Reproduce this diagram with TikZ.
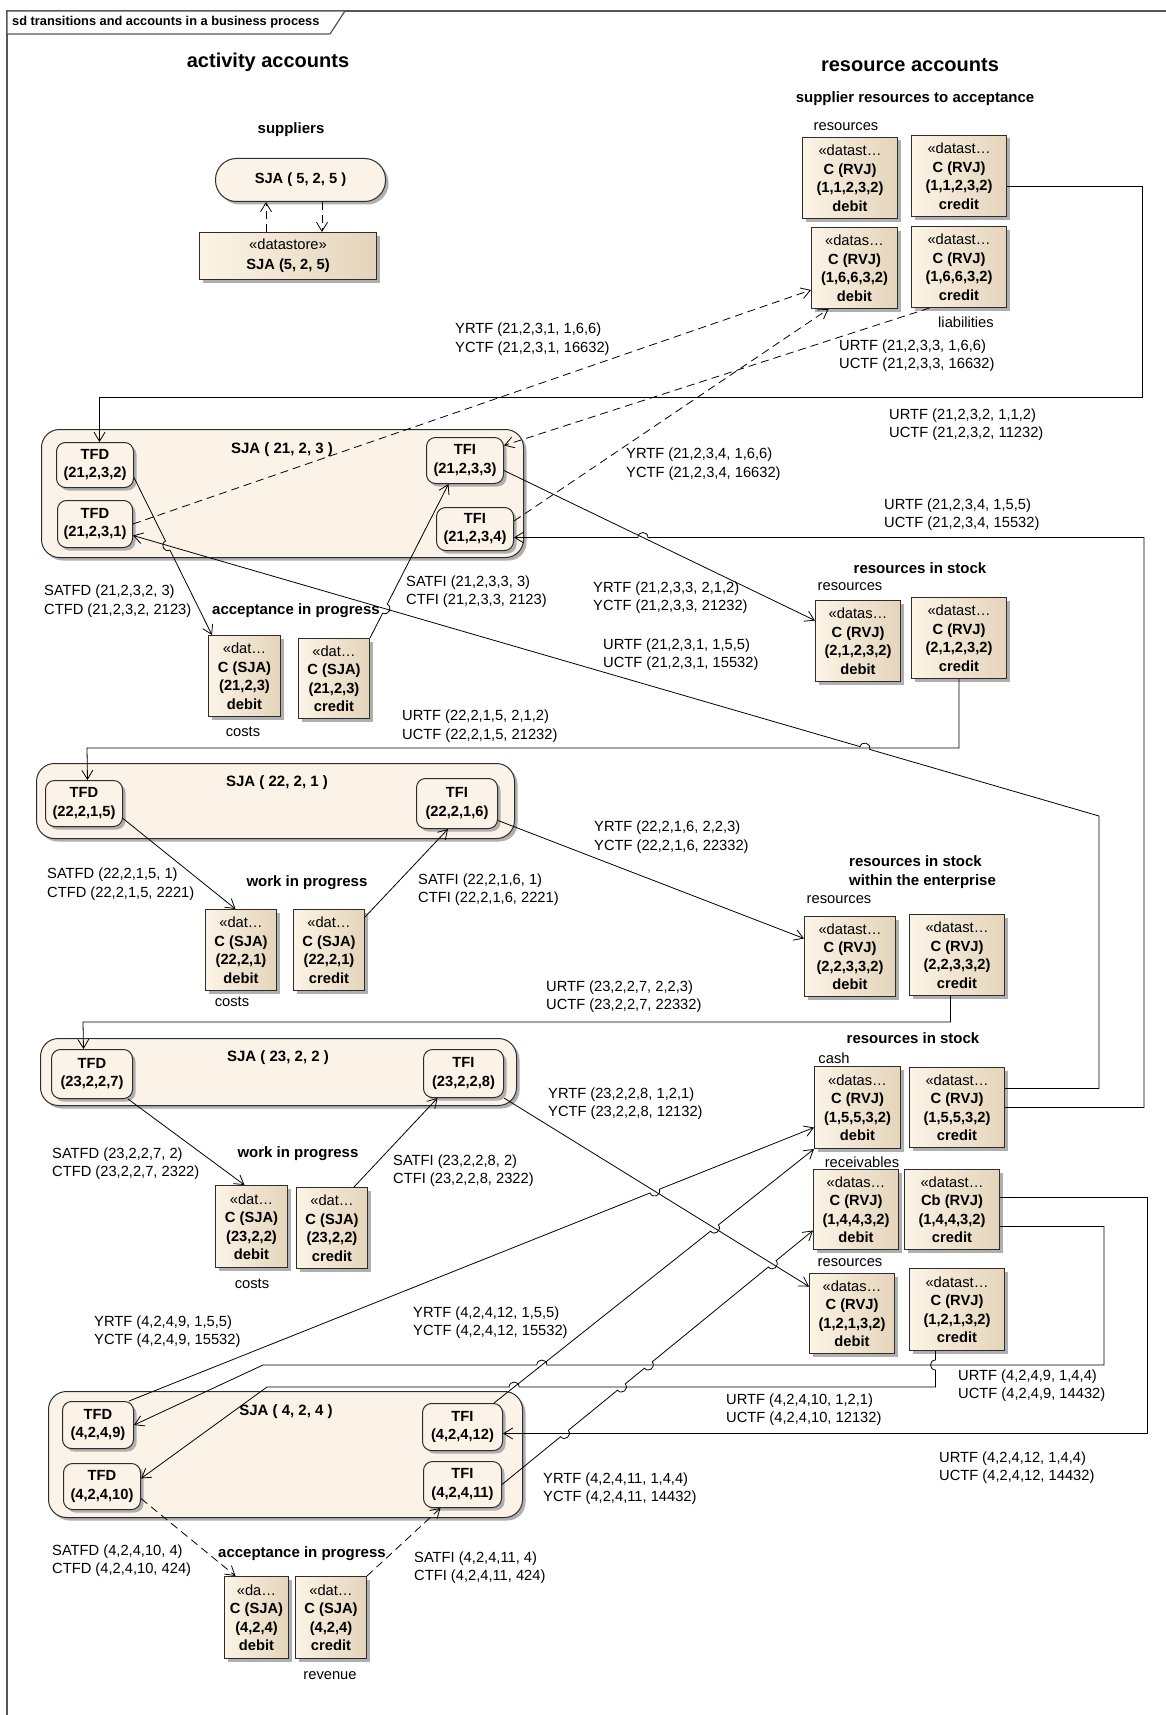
\documentclass[tikz,border=0pt]{standalone}
\usepackage{fontspec}
\setmainfont{Liberation Sans}
\usetikzlibrary{arrows.meta,calc,shadows,intersections}

\definecolor{frameline}{RGB}{85,85,85}
\definecolor{boxline}{RGB}{45,45,45}
\definecolor{actfill}{RGB}{251,243,231}
\definecolor{dsleft}{RGB}{252,244,230}
\definecolor{dsright}{RGB}{228,212,186}
\definecolor{shadowgray}{RGB}{175,175,175}

% line jump: #1 name, #2 point before, #3 crossing, #4 point after
\newcommand\mkjump[4]{%
  \coordinate (#1a) at ($(#3)!5pt!(#2)$);
  \coordinate (#1b) at ($(#3)!5pt!(#4)$);
  \coordinate (#1c) at ($(#1a)!6.6pt!-90:(#3)$);
  \coordinate (#1d) at ($(#1b)!6.6pt!90:(#3)$);
}
\newcommand\hop[1]{-- (#1a) .. controls (#1c) and (#1d) .. (#1b)}

\begin{document}
\begin{tikzpicture}[x=1pt,y=-1pt,
  lbl/.style={font=\fontsize{14.7}{18.5}\selectfont, inner sep=0pt},
  lbltwo/.style={lbl, align=left, anchor=west},
  grouphead/.style={font=\fontsize{15}{19}\selectfont\bfseries, inner sep=0pt},
  bighead/.style={font=\fontsize{20}{24}\selectfont\bfseries, inner sep=0pt},
  shadowed/.style={drop shadow={shadow xshift=3pt, shadow yshift=-3pt, fill=shadowgray, opacity=1}},
  region/.style={draw=boxline, line width=1pt, fill=actfill, rounded corners=18pt, shadowed, anchor=north west, inner sep=0pt},
  transbox/.style={draw=boxline, line width=1pt, fill=actfill, rounded corners=9pt, shadowed, anchor=north west, inner sep=0pt, align=center, font=\fontsize{14.7}{18.5}\selectfont\bfseries},
  store/.style={draw=boxline, line width=1pt, left color=dsleft, right color=dsright, shadowed, anchor=north west, inner sep=0pt, align=center, font=\fontsize{14.7}{18.5}\selectfont\bfseries},
  flow/.style={line width=0.8pt, -{Straight Barb[length=9pt,width=11pt,line width=0.8pt]}},
  dflow/.style={flow, dash pattern=on 8pt off 5pt},
]
\useasboundingbox (0,0) rectangle (1166,1715);
\fill[white] (0,0) rectangle (1166,1715);

% ---------- frame ----------
\draw[frameline,line width=1.4pt] (7,1730) -- (7,11) -- (1180,11);
\draw[frameline,line width=1.2pt,fill=white] (7,11) -- (345,11) -- (330,34) -- (7,34) -- cycle;
\node[anchor=west, inner sep=0pt, font=\fontsize{12.8}{15}\selectfont\bfseries] (title) at (12,22.5) {sd transitions and accounts in a business process};

% ---------- headings ----------
\node[bighead] (hact) at (268,62) {activity accounts};
\node[bighead] (hres) at (910,65) {resource accounts};
\node[grouphead] (gsupres) at (915,99) {supplier resources to acceptance};
\node[grouphead] (gsup) at (291,130) {suppliers};

% ---------- suppliers ----------
\node[draw=boxline, line width=1pt, fill=actfill, rounded corners=21pt, shadowed, anchor=north west, inner sep=0pt,
      minimum width=170pt, minimum height=43pt, font=\fontsize{14.7}{18.5}\selectfont\bfseries] (sja5) at (215,158) {SJA ( 5, 2, 5 )};
\node[store, minimum width=177pt, minimum height=47pt, font=\fontsize{14.7}{20}\selectfont\bfseries] (ds5) at (199,232) {\textmd{«datastore»}\\SJA (5, 2, 5)};

% ---------- activity regions ----------
\node[region, minimum width=482pt, minimum height=128pt] (sja21) at (41,429) {};
\node[region, minimum width=478pt, minimum height=75pt] (sja22) at (36,763) {};
\node[region, minimum width=476pt, minimum height=67pt] (sja23) at (40,1038) {};
\node[region, minimum width=474pt, minimum height=126pt] (sja4) at (48,1391) {};
\node[grouphead] (tsja21) at (282,450) {SJA ( 21, 2, 3 )};
\node[grouphead] (tsja22) at (277,783) {SJA ( 22, 2, 1 )};
\node[grouphead] (tsja23) at (278,1058) {SJA ( 23, 2, 2 )};
\node[grouphead] (tsja4) at (286,1412) {SJA ( 4, 2, 4 )};

% ---------- transitions ----------
\node[transbox, minimum width=77pt, minimum height=45pt] (tfdA) at (56,442) {TFD\\(21,2,3,2)};
\node[transbox, minimum width=75pt, minimum height=47pt] (tfdB) at (57,500) {TFD\\(21,2,3,1)};
\node[transbox, minimum width=77pt, minimum height=46pt] (tfiA) at (426,437) {TFI\\(21,2,3,3)};
\node[transbox, minimum width=77pt, minimum height=43pt] (tfiB) at (436,507) {TFI\\(21,2,3,4)};
\node[transbox, minimum width=77pt, minimum height=46pt] (tfdC) at (45,780) {TFD\\(22,2,1,5)};
\node[transbox, minimum width=81pt, minimum height=50pt] (tfiC) at (416,778) {TFI\\(22,2,1,6)};
\node[transbox, minimum width=81pt, minimum height=49pt] (tfdD) at (51,1049) {TFD\\(23,2,2,7)};
\node[transbox, minimum width=80pt, minimum height=48pt] (tfiD) at (423,1049) {TFI\\(23,2,2,8)};
\node[transbox, minimum width=71pt, minimum height=47pt] (tfdE) at (62,1401) {TFD\\(4,2,4,9)};
\node[transbox, minimum width=77pt, minimum height=46pt] (tfdF) at (63,1463) {TFD\\(4,2,4,10)};
\node[transbox, minimum width=80pt, minimum height=47pt] (tfiE) at (422,1403) {TFI\\(4,2,4,12)};
\node[transbox, minimum width=78pt, minimum height=46pt] (tfiF) at (423,1461) {TFI\\(4,2,4,11)};

% ---------- activity account stores ----------
\node[grouphead] (gacc1) at (296,611) {acceptance in progress};
\node[store, minimum width=72pt, minimum height=81pt] (sAd) at (208,635) {\textmd{«dat…}\\C (SJA)\\(21,2,3)\\debit};
\node[store, minimum width=71pt, minimum height=80pt] (sAc) at (298,638) {\textmd{«dat…}\\C (SJA)\\(21,2,3)\\credit};
\node[lbl] (lcost1) at (243,732) {costs};

\node[grouphead] (gwip1) at (307,883) {work in progress};
\node[store, minimum width=71pt, minimum height=81pt] (sBd) at (205,909) {\textmd{«dat…}\\C (SJA)\\(22,2,1)\\debit};
\node[store, minimum width=71pt, minimum height=81pt] (sBc) at (293,909) {\textmd{«dat…}\\C (SJA)\\(22,2,1)\\credit};
\node[lbl] (lcost2) at (232,1002) {costs};

\node[grouphead] (gwip2) at (298,1154) {work in progress};
\node[store, minimum width=72pt, minimum height=82pt] (sCd) at (215,1185) {\textmd{«dat…}\\C (SJA)\\(23,2,2)\\debit};
\node[store, minimum width=71pt, minimum height=81pt] (sCc) at (296,1187) {\textmd{«dat…}\\C (SJA)\\(23,2,2)\\credit};
\node[lbl] (lcost3) at (252,1284) {costs};

\node[grouphead] (gacc2) at (302,1554) {acceptance in progress};
\node[store, minimum width=64pt, minimum height=82pt] (sDd) at (224,1576) {\textmd{«da…}\\C (SJA)\\(4,2,4)\\debit};
\node[store, minimum width=71pt, minimum height=82pt] (sDc) at (295,1576) {\textmd{«dat…}\\C (SJA)\\(4,2,4)\\credit};
\node[lbl] (lrev) at (330,1676) {revenue};

% ---------- resource account stores ----------
\node[lbl] (lres1) at (846,127) {resources};
\node[store, minimum width=95pt, minimum height=81pt] (r1d) at (802,137) {\textmd{«datast…}\\C (RVJ)\\(1,1,2,3,2)\\debit};
\node[store, minimum width=95pt, minimum height=81pt] (r1c) at (911,135) {\textmd{«datast…}\\C (RVJ)\\(1,1,2,3,2)\\credit};
\node[store, minimum width=86pt, minimum height=81pt] (r2d) at (811,227) {\textmd{«datas…}\\C (RVJ)\\(1,6,6,3,2)\\debit};
\node[store, minimum width=95pt, minimum height=81pt] (r2c) at (911,226) {\textmd{«datast…}\\C (RVJ)\\(1,6,6,3,2)\\credit};
\node[lbl] (lliab) at (966,322) {liabilities};

\node[grouphead] (gstock1) at (920,568) {resources in stock};
\node[lbl] (lres2) at (850,587) {resources};
\node[store, minimum width=85pt, minimum height=81pt] (r3d) at (815,600) {\textmd{«datas…}\\C (RVJ)\\(2,1,2,3,2)\\debit};
\node[store, minimum width=95pt, minimum height=81pt] (r3c) at (911,597) {\textmd{«datast…}\\C (RVJ)\\(2,1,2,3,2)\\credit};

\node[grouphead, align=left, anchor=west] (gstock2) at (849,872.5) {resources in stock\\within the enterprise};
\node[lbl] (lres3) at (839,900) {resources};
\node[store, minimum width=91pt, minimum height=80pt] (r4d) at (804,916) {\textmd{«datast…}\\C (RVJ)\\(2,2,3,3,2)\\debit};
\node[store, minimum width=95pt, minimum height=81pt] (r4c) at (909,914) {\textmd{«datast…}\\C (RVJ)\\(2,2,3,3,2)\\credit};

\node[grouphead] (gstock3) at (913,1038) {resources in stock};
\node[lbl] (lcash) at (834,1058) {cash};
\node[store, minimum width=86pt, minimum height=82pt] (r5d) at (814,1066) {\textmd{«datas…}\\C (RVJ)\\(1,5,5,3,2)\\debit};
\node[store, minimum width=95pt, minimum height=80pt] (r5c) at (909,1067) {\textmd{«datast…}\\C (RVJ)\\(1,5,5,3,2)\\credit};
\node[lbl] (lrecv) at (862,1162) {receivables};
\node[store, minimum width=85pt, minimum height=80pt] (r6d) at (813,1169) {\textmd{«datas…}\\C (RVJ)\\(1,4,4,3,2)\\debit};
\node[store, minimum width=95pt, minimum height=80pt] (r6c) at (904,1169) {\textmd{«datast…}\\Cb (RVJ)\\(1,4,4,3,2)\\credit};
\node[lbl] (lres4) at (850,1263) {resources};
\node[store, minimum width=85pt, minimum height=80pt] (r7d) at (809,1273) {\textmd{«datas…}\\C (RVJ)\\(1,2,1,3,2)\\debit};
\node[store, minimum width=95pt, minimum height=82pt] (r7c) at (909,1268) {\textmd{«datast…}\\C (RVJ)\\(1,2,1,3,2)\\credit};

% ---------- connector labels ----------
\node[lbltwo] (lyrtf1) at (455,339) {YRTF (21,2,3,1, 1,6,6)\\YCTF (21,2,3,1, 16632)};
\node[lbltwo] (lurtf3) at (839,355.5) {URTF (21,2,3,3, 1,6,6)\\UCTF (21,2,3,3, 16632)};
\node[lbltwo] (lurtf2) at (889,424.5) {URTF (21,2,3,2, 1,1,2)\\UCTF (21,2,3,2, 11232)};
\node[lbltwo] (lyrtf4) at (626,464) {YRTF (21,2,3,4, 1,6,6)\\YCTF (21,2,3,4, 16632)};
\node[lbltwo] (lurtf4) at (884,514.5) {URTF (21,2,3,4, 1,5,5)\\UCTF (21,2,3,4, 15532)};
\node[lbltwo] (lsatfd1) at (44,601) {SATFD (21,2,3,2, 3)\\CTFD (21,2,3,2, 2123)};
\node[lbltwo] (lsatfi1) at (406,591.5) {SATFI (21,2,3,3, 3)\\CTFI (21,2,3,3, 2123)};
\node[lbltwo] (lyrtf3) at (593,597.5) {YRTF (21,2,3,3, 2,1,2)\\YCTF (21,2,3,3, 21232)};
\node[lbltwo] (lurtf1) at (603,654.5) {URTF (21,2,3,1, 1,5,5)\\UCTF (21,2,3,1, 15532)};
\node[lbltwo] (lurtf5) at (402,726) {URTF (22,2,1,5, 2,1,2)\\UCTF (22,2,1,5, 21232)};
\node[lbltwo] (lyrtf6) at (594,837) {YRTF (22,2,1,6, 2,2,3)\\YCTF (22,2,1,6, 22332)};
\node[lbltwo] (lsatfd2) at (47,884) {SATFD (22,2,1,5, 1)\\CTFD (22,2,1,5, 2221)};
\node[lbltwo] (lsatfi2) at (418,889.5) {SATFI (22,2,1,6, 1)\\CTFI (22,2,1,6, 2221)};
\node[lbltwo] (lurtf7) at (546,996.5) {URTF (23,2,2,7, 2,2,3)\\UCTF (23,2,2,7, 22332)};
\node[lbltwo] (lyrtf8) at (548,1103.5) {YRTF (23,2,2,8, 1,2,1)\\YCTF (23,2,2,8, 12132)};
\node[lbltwo] (lsatfd3) at (52,1163.5) {SATFD (23,2,2,7, 2)\\CTFD (23,2,2,7, 2322)};
\node[lbltwo] (lsatfi3) at (393,1170.5) {SATFI (23,2,2,8, 2)\\CTFI (23,2,2,8, 2322)};
\node[lbltwo] (lyrtf9) at (94,1331.5) {YRTF (4,2,4,9, 1,5,5)\\YCTF (4,2,4,9, 15532)};
\node[lbltwo] (lyrtf12) at (413,1322.5) {YRTF (4,2,4,12, 1,5,5)\\YCTF (4,2,4,12, 15532)};
\node[lbltwo] (lurtf9) at (958,1385.5) {URTF (4,2,4,9, 1,4,4)\\UCTF (4,2,4,9, 14432)};
\node[lbltwo] (lurtf10) at (726,1409.5) {URTF (4,2,4,10, 1,2,1)\\UCTF (4,2,4,10, 12132)};
\node[lbltwo] (lurtf12) at (939,1467.5) {URTF (4,2,4,12, 1,4,4)\\UCTF (4,2,4,12, 14432)};
\node[lbltwo] (lyrtf11) at (543,1488.5) {YRTF (4,2,4,11, 1,4,4)\\YCTF (4,2,4,11, 14432)};
\node[lbltwo] (lsatfd4) at (52,1560.5) {SATFD (4,2,4,10, 4)\\CTFD (4,2,4,10, 424)};
\node[lbltwo] (lsatfi4) at (414,1567.5) {SATFI (4,2,4,11, 4)\\CTFI (4,2,4,11, 424)};

% ---------- connectors: suppliers ----------
\coordinate (q1) at ([xshift=67pt]ds5.north west);
\coordinate (q2) at ([xshift=107pt]sja5.south west);
\draw[dflow] (q1) -- (q1 |- sja5.south);
\draw[dflow] (q2) -- (q2 |- ds5.north);

% ---------- connectors: SJA(21,2,3) ----------
\draw[flow] ([yshift=-10pt]r1c.east) -| (1142,397) -| ([xshift=4.5pt]tfdA.north);
\draw[dflow] (tfdB.east) -- ([yshift=-22pt]r2d.west);
\draw[dflow] ([yshift=8pt]tfiB.east) -- ([xshift=-26pt]r2d.south);
\draw[dflow] ([xshift=-29.5pt]r2c.south) -- ([yshift=15pt]tfiA.east);

\coordinate (u1b) at (1099,816);
\coordinate (u1e) at ([yshift=-11.5pt]tfdB.east);
\path[name path=diag1] (u1b) -- (u1e);

\coordinate (c7s) at ([yshift=-12.5pt]tfdA.east);
\coordinate (c7e) at ([xshift=4pt]sAd.north west);
\path[name path=p7] (c7s) -- (c7e);
\path[name intersections={of=p7 and diag1, by=x7}];
\mkjump{j7}{c7s}{x7}{c7e}
\draw[flow] (c7s) \hop{j7} -- (c7e);

\coordinate (c8s) at (sAc.north east);
\coordinate (c8e) at ([xshift=-16.5pt]tfiA.south);
\path[name path=p8] (c8s) -- (c8e);
\path[name intersections={of=p8 and diag1, by=x8}];
\mkjump{j8}{c8s}{x8}{c8e}
\draw[flow] (c8s) \hop{j8} -- (c8e);

\coordinate (c9s) at ([yshift=-10pt]tfiA.east);
\coordinate (c9e) at ([yshift=20.5pt]r3d.west);
\coordinate (c10e) at ([yshift=-8.5pt]tfiB.east);
\coordinate (c10k) at (c10e -| 1144,0);
\path[name path=p9] (c9s) -- (c9e);
\path[name path=h10] (c10k) -- (c10e);
\path[name intersections={of=p9 and h10, by=x9}];
\mkjump{j9}{c10k}{x9}{c10e}
\draw[flow] (c9s) -- (c9e);
\draw[flow] (r5c.east) -| (c10k) \hop{j9} -- (c10e);

\coordinate (c12k) at (87,748);
\path[name path=h12] (r3c.south |- c12k) -- (c12k);
\path[name intersections={of=diag1 and h12, by=x11}];
\mkjump{j11}{u1b}{x11}{u1e}
\draw[flow] ([yshift=19pt]r5c.east) -| (u1b) \hop{j11} -- (u1e);

% ---------- connectors: SJA(22,2,1) ----------
\draw[flow] (r3c.south) |- (c12k) -- ([xshift=3.5pt]tfdC.north);
\draw[flow] ([yshift=-15pt]tfdC.east) -- ([xshift=-5.5pt]sBd.north);
\draw[flow] ([yshift=-8pt]sBc.north east) -- ([xshift=-9pt]tfiC.south);
\draw[flow] ([yshift=-17pt]tfiC.east) -- ([yshift=18pt]r4d.west);

% ---------- connectors: SJA(23,2,2) ----------
\draw[flow] ([xshift=-6.5pt]r4c.south) |- (83,1022) -- ([xshift=-8.5pt]tfdD.north);
\draw[flow] ([xshift=-5pt]tfdD.south east) -- ([xshift=-7pt]sCd.north);
\draw[flow] ([xshift=-14pt]sCc.north east) -- ([xshift=-26pt]tfiD.south);

% ---------- connectors: SJA(4,2,4) ----------
\coordinate (c19s) at (tfiD.south east);
\coordinate (c19e) at ([yshift=27pt]r7d.west);
\coordinate (c20s) at ([xshift=-5pt]tfdE.north east);
\coordinate (c20e) at ([yshift=-20pt]r5d.west);
\coordinate (c21s) at ([xshift=-9pt]tfiE.north east);
\coordinate (c21e) at (r5d.south west);
\coordinate (c22s) at (tfiF.east);
\coordinate (c22e) at ([yshift=-21pt]r6d.west);
\coordinate (c23s) at ([yshift=12pt]r6c.east);
\coordinate (c23e) at ([yshift=-6.5pt]tfiE.east);
\coordinate (c23k) at (c23e -| 1147,0);
\coordinate (c24s) at ([yshift=-17pt]r6c.east);
\coordinate (c24k1) at (1104,1365);
\coordinate (c24k2) at (263,1365);
\coordinate (c24e) at (tfdE.east);
\coordinate (c25s) at ([xshift=-21.5pt]r7c.south);
\coordinate (c25k1) at (c25s |- 0,1387);
\coordinate (c25k2) at (267,1387);
\coordinate (c25e) at ([yshift=8pt]tfdF.east);
\path[name path=p19] (c19s) -- (c19e);
\path[name path=p20] (c20s) -- (c20e);
\path[name path=p21] (c21s) -- (c21e);
\path[name path=p22] (c22s) -- (c22e);
\path[name path=h23] (c23k) -- (c23e);
\path[name path=h24] (c24k1) -- (c24k2);
\path[name path=h25] (c25k1) -- (c25k2);
\path[name path=v25] (c25s) -- (c25k1);
\path[name intersections={of=p20 and p19, by=x20}];
\path[name intersections={of=p21 and p19, by=x21}];
\path[name intersections={of=p22 and h23, by=x22a}];
\path[name intersections={of=p22 and h25, by=x22b}];
\path[name intersections={of=p22 and h24, by=x22c}];
\path[name intersections={of=p22 and p19, by=x22d}];
\path[name intersections={of=p21 and h24, by=x24}];
\path[name intersections={of=v25 and h24, by=x25a}];
\path[name intersections={of=p21 and h25, by=x25b}];
\mkjump{j20}{c20s}{x20}{c20e}
\mkjump{j21}{c21s}{x21}{c21e}
\mkjump{jpa}{c22s}{x22a}{c22e}
\mkjump{jpb}{c22s}{x22b}{c22e}
\mkjump{jpc}{c22s}{x22c}{c22e}
\mkjump{jpd}{c22s}{x22d}{c22e}
\mkjump{j24}{c24k1}{x24}{c24k2}
\mkjump{jqa}{c25s}{x25a}{c25k1}
\mkjump{jqb}{c25k1}{x25b}{c25k2}
\draw[flow] (c19s) -- (c19e);
\draw[flow] (c20s) \hop{j20} -- (c20e);
\draw[flow] (c21s) \hop{j21} -- (c21e);
\draw[flow] (c22s) \hop{jpa} \hop{jpb} \hop{jpc} \hop{jpd} -- (c22e);
\draw[flow] (c23s) -| (c23k) -- (c23e);
\draw[flow] (c24s) -| (c24k1) \hop{j24} -- (c24k2) -- (c24e);
\draw[flow] (c25s) \hop{jqa} -- (c25k1) \hop{jqb} -- (c25k2) -- (c25e);
\draw[dflow] ([yshift=-12pt]tfdF.east) -- ([xshift=-21pt]sDd.north);
\draw[dflow] (sDc.north east) -- ([xshift=-22pt]tfiF.south);
\end{tikzpicture}
\end{document}
